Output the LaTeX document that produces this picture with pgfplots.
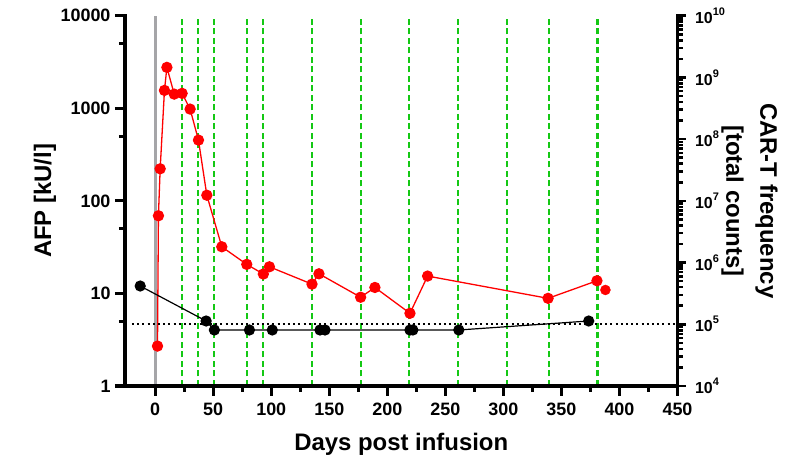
\documentclass[border=0pt]{standalone}
\usepackage{fontspec}
\setmainfont{Liberation Sans}
\usepackage{pgfplots}
\pgfplotsset{compat=1.18}
\definecolor{afpred}{RGB}{255,0,0}
\definecolor{grn}{RGB}{20,200,20}
\definecolor{gry}{RGB}{165,165,168}
\begin{document}
\begin{tikzpicture}
\begin{axis}[name=ax,
  scale only axis, width=552.5bp, height=370.3bp,
  xmin=-26, xmax=450,
  axis line style={draw=none},
  xtick pos=left, ytick pos=left,
  xticklabel style={font=\fontsize{18}{20}\selectfont\bfseries, yshift=-3bp},
  yticklabel style={font=\fontsize{18}{20}\selectfont\bfseries, xshift=-1bp},
  /pgf/number format/assume math mode=true,
  clip=false,
  tick align=outside,
  major tick length=10bp, minor tick length=6bp,
  every tick/.style={black, line width=3bp},
  ymode=log, ymin=1, ymax=10000,
  xtick={0,50,...,450}, minor xtick={25,75,...,425},
  ytick={1,10,100,1000,10000},
  yticklabels={\textbf{1},\textbf{10},\textbf{100},\textbf{1000},\textbf{10000}},
  minor ytick={5,50,500,5000},
]
\addplot[gry, line width=3bp, forget plot] coordinates {(0,1) (0,10000)};
\pgfplotsinvokeforeach{23,37,51,79,93,135,177,219,261,303,339,381}{
  \addplot[grn, line width=2.2bp, dash pattern=on 6bp off 3.5bp, forget plot] coordinates {(#1,1) (#1,10000)};
}
\draw[black, line width=3.2bp, line cap=rect] (rel axis cs:0,1) -- (rel axis cs:0,0) -- (rel axis cs:1,0);
\addplot[afpred, line width=1.3bp, mark=*, mark size=5bp, mark options={solid, fill=afpred, draw=afpred}] coordinates {
(2.0,2.7) (2.8,69) (4.3,222) (8.0,1560) (10.1,2766) (16.4,1423) (23.2,1449) (30.1,980) (37.3,453) (44.5,115)
(57.4,31.9) (78.9,20.6) (93.2,16.2) (98.4,19.4) (135.1,12.6) (141.1,16.3) (177.0,9.1) (189.3,11.6) (219.5,6.1)
(234.7,15.4) (338.5,8.85) (380.6,13.7)
};
\addplot[only marks, mark=*, mark size=5bp, mark options={fill=afpred, draw=afpred}] coordinates {(387.9,10.9)};
\end{axis}
\begin{axis}[
  scale only axis, width=552.5bp, height=370.3bp,
  xmin=-26, xmax=450,
  axis line style={draw=none},
  xtick=\empty, ytick pos=right, yticklabel pos=right,
  /pgf/number format/assume math mode=true,
  clip=false,
  tick align=outside,
  major tick length=8bp, minor tick length=5bp,
  every tick/.style={black, line width=2.5bp},
  ymode=log, ymin=1e4, ymax=1e10,
  ytick={1e4,1e5,1e6,1e7,1e8,1e9,1e10},
  yticklabels={
    \textbf{10\raisebox{0.5em}{\fontsize{11}{11}\selectfont 4}},
    \textbf{10\raisebox{0.5em}{\fontsize{11}{11}\selectfont 5}},
    \textbf{10\raisebox{0.5em}{\fontsize{11}{11}\selectfont 6}},
    \textbf{10\raisebox{0.5em}{\fontsize{11}{11}\selectfont 7}},
    \textbf{10\raisebox{0.5em}{\fontsize{11}{11}\selectfont 8}},
    \textbf{10\raisebox{0.5em}{\fontsize{11}{11}\selectfont 9}},
    \textbf{10\raisebox{0.5em}{\fontsize{11}{11}\selectfont 10}}},
  y tick label style={font=\fontsize{16}{18}\selectfont\bfseries, xshift=6bp},
]
\draw[black, line width=3.2bp, line cap=rect] (rel axis cs:1,0) -- (rel axis cs:1,1);
\addplot[black, line width=2bp, line cap=butt, dash pattern=on 2bp off 3.2bp, forget plot] coordinates {(-20,1e5) (450,1e5)};
\addplot[black, line width=1.2bp, mark=*, mark size=5bp, mark options={solid, fill=black}] coordinates {
(-12.9,4.17e5) (43.9,1.13e5) (51.0,8.08e4) (81.2,8.08e4) (100.9,8.08e4) (142.0,8.08e4) (146.3,8.08e4)
(219.5,8.08e4) (222.0,8.08e4) (261.6,8.08e4) (373.5,1.13e5)
};
\end{axis}
% tick marks (axis furniture)
\foreach \d in {0,50,...,450}
  \draw[black, line width=3bp] ([xshift={(\d+26)*1.16071*1bp}]ax.south west) -- ++(0bp,-10bp);
\foreach \d in {25,75,...,425}
  \draw[black, line width=2.5bp] ([xshift={(\d+26)*1.16071*1bp}]ax.south west) -- ++(0bp,-6bp);
\foreach \e in {0,...,4}
  \draw[black, line width=3bp] ([yshift={\e*92.575*1bp}]ax.south west) -- ++(-10bp,0bp);
\foreach \e in {0,...,3}
  \draw[black, line width=2.5bp] ([yshift={(\e+0.69897)*92.575*1bp}]ax.south west) -- ++(-6bp,0bp);
\foreach \e in {0,...,6}
  \draw[black, line width=2.5bp] ([yshift={\e*61.7167*1bp}]ax.south east) -- ++(8bp,0bp);
\foreach \e in {0,...,5}
  \foreach \k in {2,...,9}
    \draw[black, line width=2bp] ([yshift={(\e+ln(\k)/ln(10))*61.7167*1bp}]ax.south east) -- ++(5bp,0bp);
\node[font=\fontsize{24}{28}\selectfont\bfseries, anchor=base] at ([yshift=-64bp]ax.south) {Days post infusion};
\node[font=\fontsize{24}{28}\selectfont\bfseries, rotate=90] at ([xshift=-80bp]ax.west) {AFP [kU/l]};
\node[font=\fontsize{24}{34}\selectfont\bfseries, rotate=-90, align=center] at ([xshift=72bp]ax.east) {CAR-T frequency\\{}[total counts]};
\pgfresetboundingbox
\path ([shift={(-125bp,-77bp)}]ax.south west) rectangle ++(799bp,463bp);
\end{tikzpicture}
\end{document}
